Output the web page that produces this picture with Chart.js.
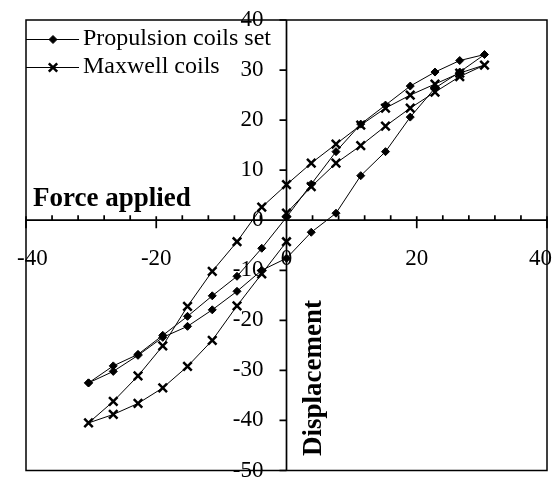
<!DOCTYPE html>
<html>
<head>
<meta charset="utf-8">
<script src="https://cdn.jsdelivr.net/npm/chart.js@4/dist/chart.umd.min.js"></script>
<style>
  html, body { margin: 0; padding: 0; background: #fff; }
  canvas { display: block; }
</style>
</head>
<body>
<canvas id="chart" width="560" height="479"></canvas>
<script>
// Propulsion coils set : boucle d'hystérésis (montée par le bas, retour par le haut)
const propX = [-30.4, -26.6, -22.8, -19.0, -15.2, -11.4, -7.6, -3.8, 0, 3.8, 7.6, 11.4, 15.2, 19.0, 22.8, 26.6, 30.4,
               26.6, 22.8, 19.0, 15.2, 11.4, 7.6, 3.8, 0, -3.8, -7.6, -11.4, -15.2, -19.0, -22.8, -26.6, -30.4];
const propY = [-32.5, -30.2, -27.0, -23.4, -21.2, -17.9, -14.2, -10.0, -7.6, -2.4, 1.4, 8.9, 13.7, 20.6, 26.4, 29.6, 33.1,
               31.9, 29.6, 26.8, 23.0, 19.2, 13.7, 7.2, 0.6, -5.6, -11.2, -15.1, -19.2, -23.0, -26.8, -29.1, -32.5];

// Maxwell coils
const maxwellX = [0, 3.8, 7.6, 11.4, 15.2, 19.0, 22.8, 26.6, 30.4,
                  26.6, 22.8, 19.0, 15.2, 11.4, 7.6, 3.8, 0, -3.8, -7.6, -11.4, -15.2, -19.0, -22.8, -26.6, -30.4,
                  -26.6, -22.8, -19.0, -15.2, -11.4, -7.6, -3.8, 0];
const maxwellY = [1.4, 6.7, 11.4, 14.9, 18.8, 22.4, 25.6, 28.7, 31.0,
                  29.4, 27.2, 25.0, 22.4, 19.0, 15.2, 11.4, 7.1, 2.6, -4.3, -10.2, -17.2, -25.1, -31.1, -36.2, -40.5,
                  -38.8, -36.6, -33.5, -29.2, -24.0, -17.1, -10.7, -4.3];

const seriesNames = ['Propulsion coils set', 'Maxwell coils'];
const xTitle = 'Force applied';
const yTitle = 'Displacement';

const xTicks = [-40, -20, 0, 20, 40];
const xMinorTicks = [-36, -32, -28, -24, -16, -12, -8, -4, 4, 8, 12, 16, 24, 28, 32, 36];
const yTicks = [-50, -40, -30, -20, -10, 0, 10, 20, 30, 40];

const toPoints = (xs, ys) => xs.map((v, i) => ({ x: v, y: ys[i] }));

function diamond(ctx, x, y, r) {
  ctx.beginPath();
  ctx.moveTo(x - r, y); ctx.lineTo(x, y - r); ctx.lineTo(x + r, y); ctx.lineTo(x, y + r);
  ctx.closePath();
  ctx.fill(); ctx.stroke();
}

function cross(ctx, x, y, h) {
  ctx.save();
  ctx.lineWidth = 2.5;
  ctx.beginPath();
  ctx.moveTo(x - h, y - h); ctx.lineTo(x + h, y + h);
  ctx.moveTo(x - h, y + h); ctx.lineTo(x + h, y - h);
  ctx.stroke();
  ctx.restore();
}

// axes qui se croisent en (0,0), cadre, légende et titres
const crossAxes = {
  id: 'crossAxes',
  beforeDatasetsDraw(chart) {
    const { ctx, chartArea: a, scales: { x, y } } = chart;
    const x0 = x.getPixelForValue(0);
    const y0 = y.getPixelForValue(0);
    ctx.save();
    ctx.strokeStyle = '#000';
    ctx.lineWidth = 1.7;
    ctx.beginPath();
    ctx.moveTo(a.left, y0); ctx.lineTo(a.right, y0);
    ctx.moveTo(x0, a.top); ctx.lineTo(x0, a.bottom);
    xTicks.forEach(v => {
      const px = x.getPixelForValue(v);
      ctx.moveTo(px, y0 - 4); ctx.lineTo(px, y0 + 8);
    });
    xMinorTicks.forEach(v => {
      const px = x.getPixelForValue(v);
      ctx.moveTo(px, y0 - 5); ctx.lineTo(px, y0);
    });
    yTicks.forEach(v => {
      const py = y.getPixelForValue(v);
      ctx.moveTo(x0 - 7, py); ctx.lineTo(x0, py);
    });
    ctx.stroke();

    ctx.fillStyle = '#000';
    ctx.font = '23px "Liberation Serif", "Times New Roman", serif';
    ctx.textAlign = 'center';
    ctx.textBaseline = 'middle';
    xTicks.forEach(v => {
      const txt = String(v);
      const w = ctx.measureText(txt).width;
      let px = x.getPixelForValue(v);
      px = Math.max(px, a.left - 9 + w / 2);
      px = Math.min(px, a.right + 5 - w / 2);
      ctx.fillText(txt, px, y0 + 39);
    });
    ctx.textAlign = 'right';
    yTicks.forEach(v => ctx.fillText(String(v), x0 - 23, y.getPixelForValue(v)));
    ctx.restore();
  },
  afterDatasetsDraw(chart) {
    const { ctx, chartArea: a } = chart;
    ctx.save();
    ctx.strokeStyle = '#000';
    ctx.fillStyle = '#000';

    // cadre
    ctx.lineWidth = 1.5;
    ctx.strokeRect(a.left, a.top, a.right - a.left, a.bottom - a.top);

    // légende
    const rows = [39.5, 67.5];
    ctx.lineWidth = 1;
    rows.forEach(ry => {
      ctx.beginPath();
      ctx.moveTo(a.left, ry); ctx.lineTo(a.left + 53, ry);
      ctx.stroke();
    });
    diamond(ctx, a.left + 27, rows[0], 4);
    cross(ctx, a.left + 27, rows[1], 4.2);
    ctx.font = '24px "Liberation Serif", "Times New Roman", serif';
    ctx.textAlign = 'left';
    ctx.textBaseline = 'middle';
    ctx.fillText(seriesNames[0], 83, rows[0] - 1);
    ctx.fillText(seriesNames[1], 83, rows[1] - 1);

    // titres des axes
    ctx.font = 'bold 27px "Liberation Serif", "Times New Roman", serif';
    ctx.textBaseline = 'alphabetic';
    ctx.fillText(xTitle, 33, 206);
    ctx.translate(321, 456);
    ctx.rotate(-Math.PI / 2);
    ctx.fillText(yTitle, 0, 0);
    ctx.restore();
  }
};

new Chart(document.getElementById('chart'), {
  type: 'scatter',
  data: {
    datasets: [
      {
        label: seriesNames[0],
        data: toPoints(propX, propY),
        showLine: true,
        borderColor: '#000',
        borderWidth: 1,
        pointStyle: 'rectRot',
        pointRadius: 4,
        pointBackgroundColor: '#000',
        pointBorderColor: '#000',
        pointBorderWidth: 1
      },
      {
        label: seriesNames[1],
        data: toPoints(maxwellX, maxwellY),
        showLine: true,
        borderColor: '#000',
        borderWidth: 1,
        pointStyle: 'crossRot',
        pointRadius: 6,
        pointBorderColor: '#000',
        pointBorderWidth: 2.5
      }
    ]
  },
  options: {
    responsive: false,
    animation: false,
    events: [],
    layout: { padding: { left: 26, top: 20, right: 13, bottom: 8 } },
    plugins: { legend: { display: false }, tooltip: { enabled: false } },
    scales: {
      x: { type: 'linear', min: -40, max: 40, display: false },
      y: { type: 'linear', min: -50, max: 40, display: false }
    }
  },
  plugins: [crossAxes]
});
</script>
</body>
</html>
